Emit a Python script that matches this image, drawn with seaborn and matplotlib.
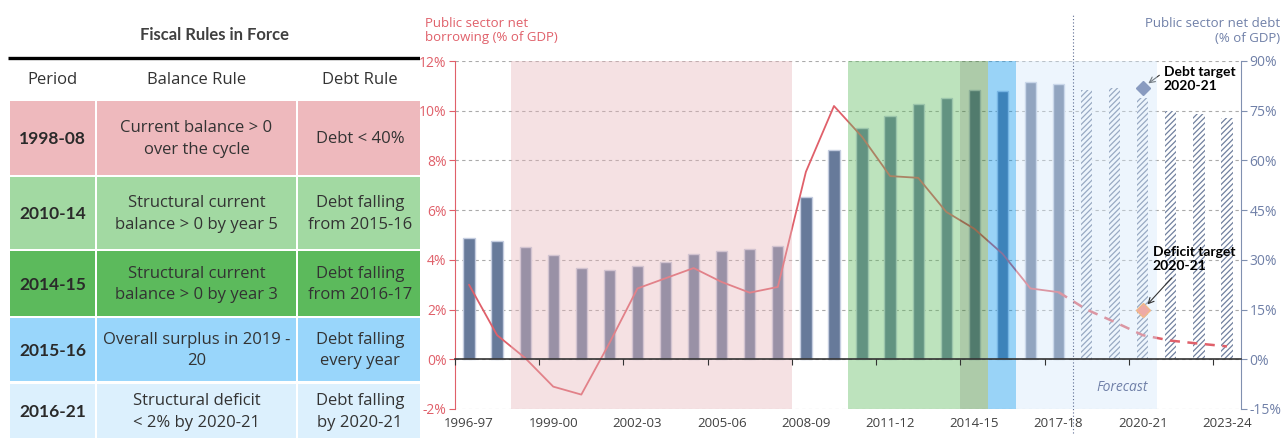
"""
Fiscal rules table + UK net borrowing / net debt chart
"""

import numpy as np
import matplotlib
matplotlib.use("Agg")
import matplotlib.pyplot as plt
from matplotlib.patches import Rectangle
import seaborn as sns

# ---- data ----
years = ["1996-97", "1997-98", "1998-99", "1999-00", "2000-01", "2001-02", "2002-03",
         "2003-04", "2004-05", "2005-06", "2006-07", "2007-08", "2008-09", "2009-10",
         "2010-11", "2011-12", "2012-13", "2013-14", "2014-15", "2015-16", "2016-17",
         "2017-18", "2018-19", "2019-20", "2020-21", "2021-22", "2022-23", "2023-24"]

# public sector net debt, % of GDP (right axis)
net_debt = [36.7, 35.7, 34.0, 31.4, 27.4, 26.8, 28.1, 29.3, 31.8, 32.7, 33.3, 34.3, 49.0,
            63.1, 69.8, 73.4, 76.9, 78.8, 81.1, 80.9, 83.6, 83.1, 81.4, 82.0, 78.8, 74.9,
            73.9, 72.8]

# public sector net borrowing, % of GDP (left axis)
net_borrowing = [3.0, 0.97, 0.05, -1.1, -1.42, 0.65, 2.85, 3.26, 3.67, 3.11, 2.68, 2.91,
                 7.54, 10.19, 8.95, 7.37, 7.3, 5.93, 5.25, 4.25, 2.85, 2.7, 2.0, 1.5, 0.97,
                 0.75, 0.63, 0.52]

first_forecast = "2018-19"
last_outturn = "2017-18"
tick_years = ["1996-97", "1999-00", "2002-03", "2005-06", "2008-09", "2011-12", "2014-15",
              "2017-18", "2020-21", "2023-24"]

debt_target = 82.0
deficit_target = 2.0
target_year = "2020-21"

# fiscal rule periods (table + shaded spans)
periods = ["1998-08", "2010-14", "2014-15", "2015-16", "2016-21"]
balance_rules = ["Current balance > 0\nover the cycle",
                 "Structural current\nbalance > 0 by year 5",
                 "Structural current\nbalance > 0 by year 3",
                 "Overall surplus in 2019 -\n20",
                 "Structural deficit\n< 2% by 2020-21"]
debt_rules = ["Debt < 40%",
              "Debt falling\nfrom 2015-16",
              "Debt falling\nfrom 2016-17",
              "Debt falling\nevery year",
              "Debt falling\nby 2020-21"]
row_colors = ["#eeb9bd", "#a2d9a2", "#5cba5c", "#99d6fb", "#dcf0fd"]

span_start = ["1998-99", "2010-11", "2014-15", "2015-16", "2016-17"]
span_end = ["2007-08", "2013-14", "2014-15", "2015-16", "2020-21"]
span_colors = ["#e6b4b9", "#5cb95c", "#327d2a", "#0091eb", "#d4e8fa"]

# ---- style ----
RED = "#e0606a"
SLATE = "#677a9a"
SLATE_TXT = "#7080a8"
DARK = "#333333"
BOLD_FONT = ["Lato", "DejaVu Sans"]

sns.set_style("white")
plt.rcParams["font.family"] = ["Open Sans", "DejaVu Sans"]
plt.rcParams["hatch.linewidth"] = 0.9

fig = plt.figure(figsize=(12.84, 4.38), dpi=100)
W, H = 1284, 438

# ---- table (drawn in pixel coordinates) ----
tab = fig.add_axes([0, 0, 420 / W, 1])
tab.set_xlim(0, 420)
tab.set_ylim(H, 0)
tab.axis("off")

tab.text(214, 35, "Fiscal Rules in Force", ha="center", va="center",
         fontsize=12, fontweight="bold", family=BOLD_FONT, color="#404040")
tab.plot([8, 420], [58, 58], color="black", lw=2.4, solid_capstyle="butt")

col_left = [10, 97, 298]
col_right = [95, 296, 422]
headers = ["Period", "Balance Rule", "Debt Rule"]
for cl, cr, hd in zip(col_left, col_right, headers):
    tab.text((cl + cr) / 2, 80, hd, ha="center", va="center", fontsize=12, color=DARK)

row_top = [101, 177, 251, 318, 384]
row_bot = [175, 249, 316, 381, 442]
for i in range(len(periods)):
    cells = [periods[i], balance_rules[i], debt_rules[i]]
    for j, (cl, cr) in enumerate(zip(col_left, col_right)):
        tab.add_patch(Rectangle((cl, row_top[i]), cr - cl, row_bot[i] - row_top[i],
                                facecolor=row_colors[i], edgecolor="none"))
        cy = (row_top[i] + min(row_bot[i], 438)) / 2 + 1
        if j == 0:
            tab.text((cl + cr) / 2, cy, cells[j], ha="center", va="center",
                     fontsize=12.5, color="#2a2a2a", fontweight="bold", family=BOLD_FONT)
        else:
            tab.text((cl + cr) / 2, cy, cells[j], ha="center", va="center",
                     fontsize=12, color=DARK, linespacing=1.45)

# ---- chart ----
ax = fig.add_axes([455 / W, 29 / H, 786 / W, 348 / H])   # borrowing, left axis
axd = ax.twinx()                                          # debt, right axis
ax.set_zorder(axd.get_zorder() + 1)
ax.patch.set_visible(False)

x = np.arange(len(years))
fc = years.index(first_forecast)
lo = years.index(last_outturn)

sns.barplot(x=years, y=net_debt, color=SLATE, width=0.4, edgecolor="#c5cde0",
            linewidth=1, saturation=1, ax=axd)
for k, bar in enumerate(axd.patches):
    if k >= fc:
        bar.set_facecolor("white")
        bar.set_edgecolor("#71819f")
        bar.set_hatch("//////")
        bar.set_linewidth(0)

axd.set_ylim(-15, 90)
axd.set_yticks(np.arange(-15, 91, 15))
axd.set_yticklabels([f"{v}%" for v in range(-15, 91, 15)])
axd.grid(axis="y", color="#aaaaaa", lw=0.8, ls=(0, (3, 3)))
axd.set_xlabel("")
axd.set_ylabel("")
axd.plot(years.index(target_year), debt_target, marker="D", ms=7, color="#58699a",
         mec="#58699a", zorder=5)

# borrowing line: outturn solid, forecast dashed
sns.lineplot(x=x[:lo + 1], y=net_borrowing[:lo + 1], color=RED, lw=1.3, ax=ax, zorder=2)
ax.plot(x[lo:], net_borrowing[lo:], color=RED, lw=1.8, ls=(0, (4, 3)), zorder=2)

for s0, s1, c in zip(span_start, span_end, span_colors):
    ax.axvspan(years.index(s0) - 0.5, years.index(s1) + 0.5, color=c, alpha=0.4,
               lw=0, zorder=3)

ax.plot(years.index(target_year), deficit_target, marker="D", ms=7, color="#eeaaa6",
        mec="#f2b888", mew=1, zorder=5)

ax.set_xlim(-0.5, len(years) - 0.5)
ax.set_ylim(-2, 12)
ax.set_yticks(np.arange(-2, 13, 2))
ax.set_yticklabels([f"{v}%" for v in range(-2, 13, 2)])
ax.set_xticks([years.index(t) for t in tick_years])
ax.set_xticklabels(tick_years)
ax.tick_params(axis="x", length=0, labelsize=9.5, labelcolor="#404040", pad=6)
ax.tick_params(axis="y", colors=RED, labelcolor=RED, labelsize=10, length=4, pad=2)
axd.tick_params(axis="y", colors="#8090b0", labelcolor=SLATE_TXT, labelsize=10,
                length=4, pad=2)

for a in (ax, axd):
    for side in ("top", "bottom"):
        a.spines[side].set_visible(False)
ax.spines["right"].set_visible(False)
ax.spines["left"].set_color(RED)
axd.spines["left"].set_visible(False)
axd.spines["right"].set_color("#8090b0")

# zero line with small ticks at category boundaries
zero = ax.secondary_xaxis(2 / 14)
zero.set_xticks(np.arange(-0.5, len(years), 3))
zero.set_xticklabels([])
zero.tick_params(length=4, color=DARK, direction="out")
zero.spines["bottom"].set_color(DARK)
zero.spines["bottom"].set_linewidth(1.2)
zero.set_zorder(6)

# forecast marker
ax.axvline(lo + 0.5, ymin=-0.07, ymax=1.135, color="#5a6a90", lw=0.8, ls=(0, (1, 2)),
           clip_on=False, zorder=6)
ax.text(23.25, -1.13, "Forecast", ha="center", va="center", fontsize=10,
        style="italic", color=SLATE_TXT, zorder=7)

# target annotations
axd.annotate("Debt target\n2020-21", xy=(years.index(target_year), debt_target),
             xytext=(21, 9), textcoords="offset pixels", ha="left", va="center",
             fontsize=10, fontweight="bold", family=BOLD_FONT, color="black",
             arrowprops=dict(arrowstyle="->", color=DARK, lw=0.8, relpos=(0, 0.75),
                             shrinkA=1, shrinkB=5))
ax.annotate("Deficit target\n2020-21", xy=(years.index(target_year), deficit_target),
            xytext=(10, 51), textcoords="offset pixels", ha="left", va="center",
            fontsize=10, fontweight="bold", family=BOLD_FONT, color="black", zorder=8,
            arrowprops=dict(arrowstyle="->", color=DARK, lw=0.8, relpos=(0.3, 0),
                            shrinkA=3, shrinkB=5))

fig.text(425 / W, 1 - 17 / H, "Public sector net\nborrowing (% of GDP)", ha="left",
         va="top", fontsize=9.5, color=RED, linespacing=1.15)
fig.text(1280 / W, 1 - 17 / H, "Public sector net debt\n(% of GDP)", ha="right",
         va="top", fontsize=9.5, color=SLATE_TXT, linespacing=1.15)

fig.savefig("out.png", dpi=100)
